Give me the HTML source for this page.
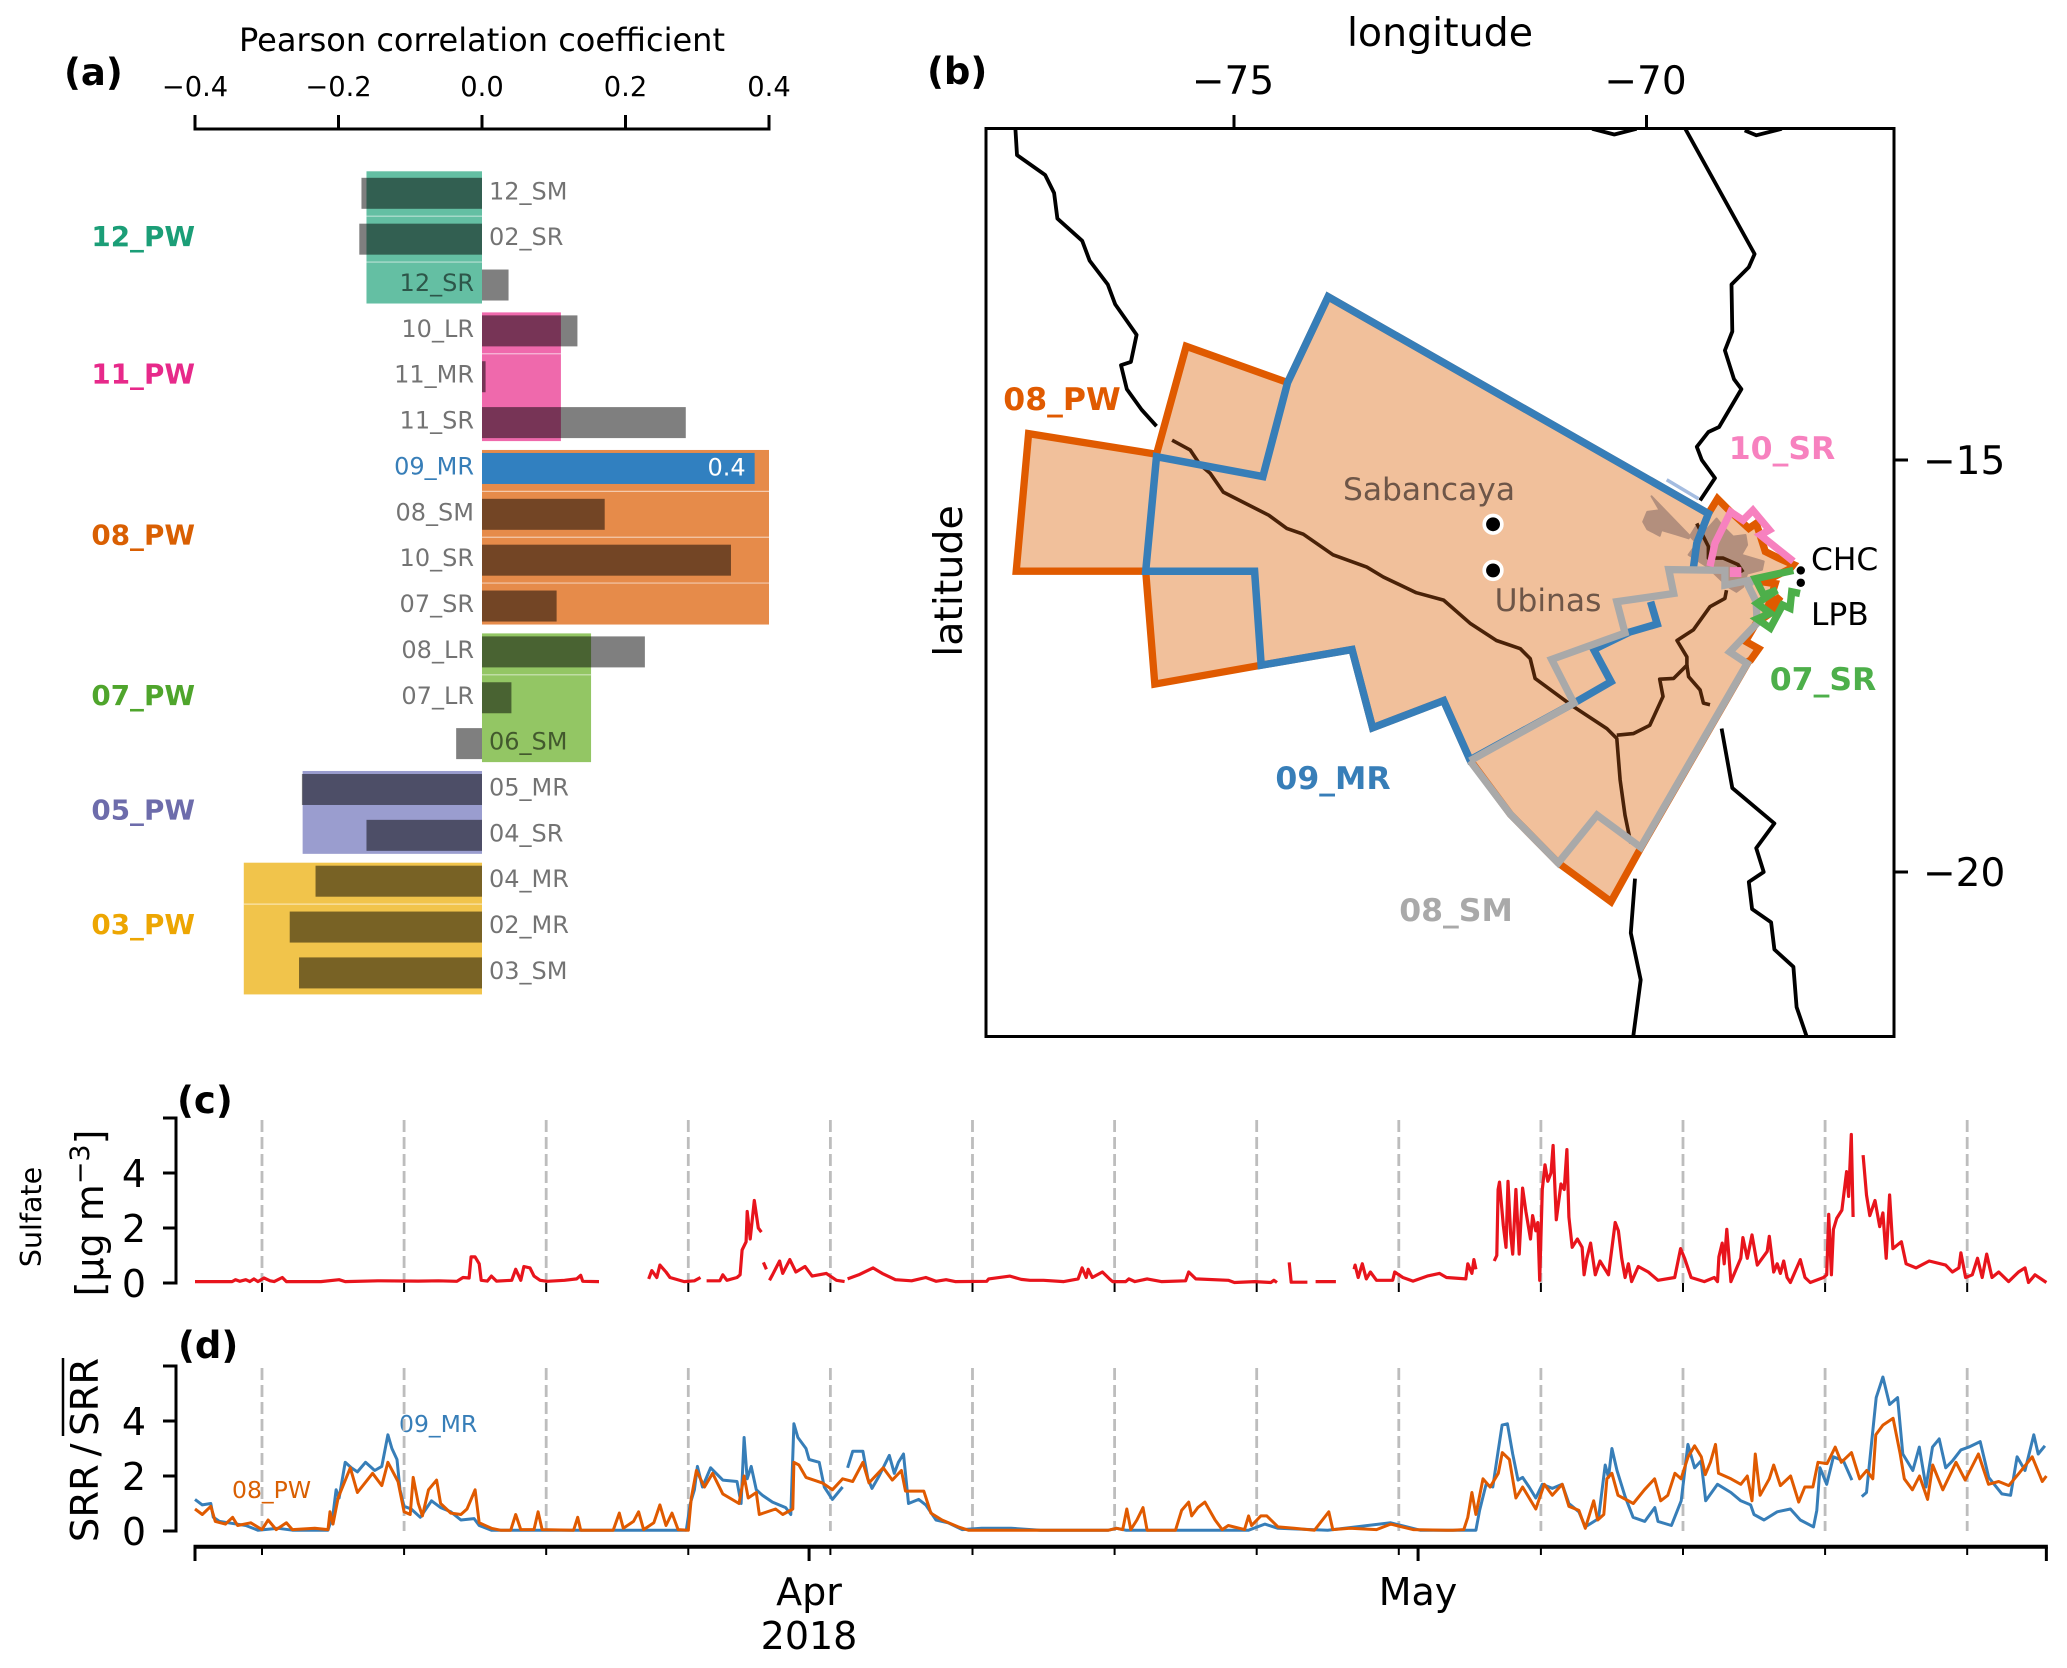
<!DOCTYPE html>
<html lang="en">
<head>
<meta charset="utf-8">
<title>Sulfate correlation, source regions and time series</title>
<style>
html,body{margin:0;padding:0;background:#fff;}
svg{display:block;font-family:"DejaVu Sans","Liberation Sans",sans-serif;}
</style>
</head>
<body>
<svg id="fig" xmlns="http://www.w3.org/2000/svg" width="2067" height="1668" viewBox="0 0 2067 1668">
  <rect width="2067" height="1668" fill="#fff"/>
  <defs><clipPath id="mapClip"><rect x="986" y="128.5" width="908" height="908"/></clipPath></defs>
  <text x="64" y="85" font-size="37" font-weight="bold">(a)</text>
  <text x="927" y="84" font-size="37" font-weight="bold">(b)</text>
  <text x="177" y="1113" font-size="37" font-weight="bold">(c)</text>
  <text x="178" y="1358" font-size="37" font-weight="bold">(d)</text>
  <text x="482" y="51" font-size="32" text-anchor="middle">Pearson correlation coefficient</text>
  <text x="1440" y="46" font-size="39.5" text-anchor="middle">longitude</text>
  <text transform="translate(962,581) rotate(-90)" font-size="39.5" text-anchor="middle">latitude</text>
  <text transform="translate(41,1217) rotate(-90)" font-size="28.5" text-anchor="middle">Sulfate</text>
  <text transform="translate(103,1213) rotate(-90)" font-size="38" text-anchor="middle">[µg m<tspan font-size="27" dy="-14">−3</tspan><tspan dy="14">]</tspan></text>
  <text transform="translate(98,1450) rotate(-90)" font-size="38.5" text-anchor="middle">SRR&#8201;/&#8201;SRR</text>
  <line x1="63" x2="63" y1="1436" y2="1358" stroke="#000" stroke-width="2.5"/>
  <text x="399" y="1432" font-size="23.5" fill="#377eb8">09_MR</text>
  <text x="232" y="1498" font-size="23.5" fill="#d95f02">08_PW</text>
  <text x="809" y="1605" font-size="38" text-anchor="middle">Apr</text>
  <text x="809" y="1649" font-size="38" text-anchor="middle">2018</text>
  <text x="1418" y="1605" font-size="38" text-anchor="middle">May</text>
</svg>
<script>
// ---------- panel (a) data ----------
const corrTicks = [-0.4, -0.2, 0, 0.2, 0.4];
const corrTickLabels = ['\u22120.4', '\u22120.2', '0.0', '0.2', '0.4'];
const rowNames = ['12_SM','02_SR','12_SR','10_LR','11_MR','11_SR','09_MR','08_SM','10_SR','07_SR','08_LR','07_LR','06_SM','05_MR','04_SR','04_MR','02_MR','03_SM'];
const rowValues = [-0.168,-0.171,0.037,0.133,0.005,0.284,0.38,0.171,0.347,0.104,0.227,0.041,-0.036,-0.251,-0.161,-0.232,-0.268,-0.255];
const groupNames = ['12_PW','11_PW','08_PW','07_PW','05_PW','03_PW'];
const groupValues = [-0.161,0.11,0.4,0.152,-0.25,-0.332];
const groupFirstRow = [0,3,6,10,13,15];
const groupLastRow = [2,5,9,12,14,17];
const separatorRows = [0,1,3,6,7,8,10,15];
const groupFills = ['#64bfa3','#ef69ac','#e68b4a','#93c664','#9a9dcf','#f1c44b'];
const groupTextColors = ['#1b9e77','#e7298a','#d95f02','#4fa52c','#6d6cab','#eda602'];

// ---------- panel (b) data (longitude / latitude) ----------
const lonTicks = [-75, -70];
const latTicks = [-15, -20];
const pwLon = [-77.49,-77.64,-76.07,-75.96,-74.67,-73.57,-73.32,-72.46,-72.14,-71.65,-71.07,-70.43,-70.07,-68.76,-68.74,-68.64,-68.8,-68.67,-68.5,-68.38,-68.52,-68.44,-68.58,-68.26,-68.22,-68.4,-68.56,-68.63,-68.67,-68.76,-69,-69.14,-69.25,-73.86,-74.35,-75.58,-75.94];
const pwLat = [-14.68,-16.35,-16.35,-17.72,-17.49,-17.3,-18.25,-17.92,-18.64,-19.3,-19.89,-20.36,-19.71,-17.44,-17.43,-17.29,-17.2,-16.98,-16.86,-16.66,-16.76,-16.5,-16.48,-16.32,-16.27,-16.19,-16.11,-15.89,-15.77,-15.83,-15.61,-15.47,-15.65,-13.02,-14.06,-13.62,-14.93];
const mrLon = [-69.43,-69.39,-69.25,-73.86,-74.35,-74.65,-75.94,-76.07,-74.75,-74.67,-73.57,-73.32,-72.46,-72.14,-70.88,-70.43,-70.64,-70.21,-69.87,-69.95];
const mrLat = [-16.3,-16.01,-15.65,-13.02,-14.06,-15.2,-14.96,-16.35,-16.35,-17.49,-17.3,-18.25,-17.92,-18.64,-17.95,-17.69,-17.3,-17.09,-16.99,-16.72];
const smLon = [-72.14,-71.65,-71.07,-70.6,-70.07,-68.78,-68.99,-68.66,-68.67,-68.77,-68.7,-69.05,-69.05,-69.73,-69.67,-70.36,-70.26,-71.15,-70.88,-72.14];
const smLat = [-18.65,-19.3,-19.89,-19.31,-19.7,-17.47,-17.33,-16.98,-16.72,-16.52,-16.45,-16.52,-16.34,-16.33,-16.62,-16.72,-17.1,-17.42,-17.95,-18.65];
const srPinkLon = [-69.23,-69.17,-68.98,-68.83,-68.71,-68.51,-68.62,-68.22];
const srPinkLat = [-16.29,-16.01,-15.63,-15.73,-15.61,-15.85,-15.91,-16.23];
const srPinkPatchLon = [-68.99,-68.85,-68.85,-68.99];
const srPinkPatchLat = [-16.3,-16.3,-16.42,-16.42];
const srGreenLon = [-68.22,-68.68,-68.58,-68.42,-68.66,-68.5,-68.66,-68.5,-68.35,-68.26,-68.24,-68.14];
const srGreenLat = [-16.34,-16.44,-16.64,-16.58,-16.74,-16.86,-16.93,-17.04,-16.76,-16.8,-16.6,-16.62];
const shadeLon = [-69.94,-69.84,-69.99,-70.04,-69.99,-69.84,-69.82,-69.65,-69.49,-69.39,-69.31,-69.15,-69.07,-68.95,-68.8,-68.78,-68.85,-68.58,-68.6,-68.78,-68.83,-68.91,-69.01,-69.27,-69.49,-69.39];
const shadeLat = [-15.44,-15.61,-15.63,-15.75,-15.84,-15.92,-15.85,-15.9,-15.95,-15.79,-15.89,-15.71,-15.81,-15.93,-15.91,-16.03,-16.15,-16.23,-16.33,-16.38,-16.54,-16.6,-16.54,-16.29,-16.15,-16.01];
const riverMainLon = [-75.75,-75.53,-75.41,-75.29,-75.13,-74.58,-74.36,-74.16,-73.8,-73.39,-73.19,-72.79,-72.46,-72.14,-71.82,-71.53,-71.41,-71.35,-70.89,-70.48,-70.36,-70.32,-70.26,-70.19];
const riverMainLat = [-14.76,-14.88,-15.06,-15.16,-15.39,-15.67,-15.83,-15.9,-16.15,-16.3,-16.42,-16.61,-16.7,-16.98,-17.19,-17.29,-17.41,-17.65,-17.99,-18.26,-18.38,-18.88,-19.31,-19.65];
const riverEastLon = [-70.36,-70.16,-69.96,-69.8,-69.84,-69.67,-69.51,-69.51,-69.63,-69.43,-69.23,-69.05,-69.03];
const riverEastLat = [-18.34,-18.32,-18.22,-17.87,-17.66,-17.65,-17.49,-17.39,-17.19,-17.06,-16.78,-16.68,-16.58];
const riverForkLon = [-69.51,-69.49,-69.35,-69.31,-69.23];
const riverForkLat = [-17.49,-17.63,-17.79,-17.95,-17.97];
const riverUpperLon = [-69.39,-69.25,-69.25,-69.07,-68.89,-68.83];
const riverUpperLat = [-15.77,-16.05,-16.19,-16.19,-16.27,-16.36];
const coastWestLon = [-77.65,-77.63,-77.29,-77.18,-77.14,-76.84,-76.75,-76.53,-76.44,-76.18,-76.25,-76.37,-76.3,-76.12,-75.94];
const coastWestLat = [-10.98,-11.3,-11.54,-11.76,-12.07,-12.34,-12.58,-12.87,-13.11,-13.48,-13.81,-13.85,-14.14,-14.39,-14.59];
const coastNorthLon = [-70.66,-70.39,-70.12];
const coastNorthLat = [-10.98,-11.05,-10.98];
const borderMidLon = [-69.53,-68.69,-68.76,-68.97,-68.96,-69.05,-68.94,-68.85,-69.12,-69.25,-69.39,-69.33,-69.17,-69.35];
const borderMidLat = [-10.98,-12.5,-12.66,-12.87,-13.44,-13.67,-14.02,-14.14,-14.6,-14.66,-14.84,-15,-15.22,-15.49];
const borderTopLon = [-68.81,-68.67,-68.36];
const borderTopLat = [-11.0,-11.06,-10.98];
const borderSouthLon = [-69.09,-68.96,-68.45,-68.67,-68.58,-68.76,-68.72,-68.49,-68.45,-68.22,-68.18,-68.06];
const borderSouthLat = [-18.26,-18.98,-19.41,-19.71,-20,-20.12,-20.45,-20.61,-20.94,-21.15,-21.64,-21.99];
const coastSouthLon = [-70.14,-70.19,-70.07,-70.16];
const coastSouthLat = [-20.08,-20.74,-21.31,-21.99];
const lakeLon = [-69.755,-69.37];
const lakeLat = [-15.24,-15.47];
const volcanoNames = ['Sabancaya','Ubinas'];
const volcanoLon = [-71.86,-71.86];
const volcanoLat = [-15.78,-16.34];
const stationNames = ['CHC','LPB'];
const stationLon = [-68.13,-68.13];
const stationLat = [-16.34,-16.49];

// ---------- panels (c) and (d) data (days since start of axis) ----------
const weekGridDays = [3.3,10.3,17.3,24.3,31.3,38.3,45.3,52.3,59.3,66.3,73.3,80.3,87.3];
const monthTickDays = [0,30.25,60.25,91.2];
const concTicks = [0,2,4];
const sulfateDays = [
0,1.83,2,2.2,2.5,2.7,2.9,3.1,3.4,3.7,3.9,4.3,4.5,6.2,7.1,7.4,9,11,12,12.9,13.2,13.5,13.6,13.8,14,14.1,14.4,14.6,14.85,15.6,15.8,16.05,16.2,16.5,16.7,17,17.35,18.2,18.8,19,19.1,19.9,
20,22.35,22.5,22.75,22.9,23.2,23.4,24.1,24.6,24.9,
25,25.2,25.85,26,26.2,26.7,26.85,26.95,27.15,27.2,27.35,27.55,27.75,27.9,
27.95,28,28.15,
28.2,28.3,28.45,28.8,28.95,29.3,29.6,30.05,30.4,31.1,31.6,32,
32.1,32.15,32.7,33.4,33.85,34.5,35.3,36,36.5,37,37.45,39,39.1,40.15,40.7,41.13,41.8,42.8,43.5,43.7,43.9,44,44.2,44.7,45.05,45.2,45.85,46,46.3,46.9,47.6,48.8,48.95,49.3,50.9,51.2,52.2,53,53.15,53.3,
53.5,53.9,54,54.8,
55,55.2,56.2,
57,57.1,57.15,57.3,57.5,57.7,57.9,58.2,59,59.1,59.5,60,60.7,61.3,61.65,62.6,62.7,62.9,63,63.1,
63.5,64,64.13,64.19,64.26,64.45,64.58,64.68,64.81,64.91,65.07,65.23,65.4,65.56,65.79,65.89,66.05,66.15,66.24,66.37,66.5,66.64,66.8,66.9,67.06,67.29,67.45,67.58,67.68,67.84,68.1,68.33,68.43,68.56,68.75,68.98,69.21,69.63,69.96,70.12,70.28,70.45,70.61,70.77,71.1,71.59,72.07,72.89,73.18,73.38,73.7,74.35,74.84,75,75.07,75.23,75.33,75.46,75.66,76.15,76.25,76.47,76.7,76.96,77.45,77.55,77.77,77.94,78.1,78.26,78.43,78.59,79.08,79.31,79.57,80.22,80.38,80.48,80.61,80.71,80.87,81.13,81.36,81.46,81.59,81.68,
82,82.17,82.34,82.5,82.76,82.99,83.15,83.31,83.48,83.64,84.06,84.29,84.78,85.43,86.24,86.57,86.89,86.99,87.22,87.55,87.81,88.04,88.26,88.52,88.85,89.34,89.83,90.15,90.32,90.64,91.2];
const sulfateValues = [
.05,.05,.12,.06,.12,.05,.15,.05,.18,.08,.05,.2,.05,.05,.12,.05,.08,.07,.08,.06,.2,.18,.95,.95,.7,.1,.07,.25,.07,.1,.5,.1,.6,.55,.25,.1,.06,.1,.15,.28,.06,.05,
null,.15,.45,.2,.65,.4,.2,.05,.08,.2,
null,.08,.08,.3,.1,.2,.3,1.2,1.5,2.6,1.6,3,2,1.85,
null,.75,.5,
null,.1,.3,.8,.35,.85,.4,.6,.25,.35,.1,.05,
null,.15,.3,.55,.35,.12,.08,.2,.06,.12,.05,.06,.15,.25,.13,.1,.1,.05,.15,.55,.2,.5,.2,.4,.15,.05,.05,.15,.05,.15,.05,.08,.4,.15,.1,.02,.05,.02,.1,.02,
null,.75,.03,.03,
null,.05,.05,
null,.5,.65,.2,.7,.15,.4,.1,.1,.4,.2,.07,.25,.35,.2,.15,.7,.35,.85,.5,
null,.8,1,3.4,3.67,2.1,1.3,3.7,1.8,1.05,3.4,1.05,3.45,2.6,1.6,2.45,1.9,2.2,.1,3.4,4.3,3.7,4,5,2.3,3.6,3.4,4.85,2.4,1.3,1.6,1.3,.3,.9,1.45,.3,.8,.3,2.2,1.9,.9,.2,.7,.05,.6,.4,.1,.2,1.25,.9,.2,.05,.2,.05,.95,1.45,.7,1.95,.05,.9,1.65,.9,1.75,.65,1.15,1.7,.4,.7,.35,.8,.2,.02,.85,.2,.02,.2,.3,2.5,.3,1.95,2.35,2.65,4.05,3.15,5.4,2.4,
null,4.65,3.2,2.45,3,2.05,2.55,.9,3.2,1.25,1.5,.7,.55,.8,.65,.4,.55,1.1,.2,.3,.9,.2,1.05,.2,.4,.05,.4,.55,.02,.3,.02];
const srrMrDays = [
0,.36,.78,.9,1.2,1.65,2.5,3.1,4.1,4.8,6.55,6.8,6.95,7.1,7.4,7.7,8,8.4,8.85,9.2,9.5,9.7,9.95,10.1,10.3,10.65,11.1,11.65,12.1,12.6,13.1,13.75,14,14.6,16.5,24.2,24.4,24.6,24.75,25,25.4,26,26.7,26.9,27.05,27.2,27.4,27.65,27.95,28.45,29.1,29.35,29.5,29.7,30.1,30.25,30.75,31,31.4,31.9,
32,32.15,32.4,32.9,33.15,33.35,33.7,34.2,34.45,34.65,34.9,35.15,35.65,36,36.5,37.1,37.8,38.75,40.2,41.65,45,45.4,45.85,51.9,52.7,53.35,55.8,58.9,60.35,63.1,
63.28,63.6,63.93,64.19,64.39,64.65,64.91,65.17,65.4,65.72,66.05,66.37,66.86,67.35,67.68,68.17,68.49,69.14,69.47,69.63,69.8,70.05,70.45,70.84,71.42,71.91,72.07,72.73,73.21,73.54,73.87,74.19,74.42,75,75.66,76.15,76.63,76.8,77.29,77.94,78.59,79.08,79.73,79.89,80.05,80.38,80.71,81.2,81.62,
81.9,82.11,82.34,82.56,82.82,83.15,83.48,83.87,84.13,84.62,84.94,85.27,85.59,85.92,86.24,86.57,86.99,87.38,87.94,88.36,89.01,89.44,89.76,90.15,90.58,90.8,91.13];
const srrMrValues = [
1.15,.95,1,.5,.35,.3,.2,.03,.1,.03,.03,.6,1.5,1.2,2.5,2.3,2.15,2.5,2.2,2.35,3.5,3,2.6,1.5,.9,.8,.5,1.1,.85,.7,.4,.45,.2,.03,.03,.03,1,1.5,2.35,1.6,2.3,1.85,1.8,1,3.4,1.9,2.35,1.5,1.3,1.05,.85,.6,3.9,3.4,3,2.6,2.5,1.6,1.15,1.6,
null,2.3,2.9,2.9,1.9,1.55,2,2.75,2.1,2.5,2.8,1,1.15,.95,.4,.3,.05,.1,.1,.03,.03,.1,.03,.03,.25,.1,.03,.3,.03,.03,
.75,1.7,1.6,2.9,3.85,3.9,2.8,1.85,1.95,1.6,1.2,1.7,1.55,1.7,1,.7,.15,.45,2.4,1.95,3,2.2,1.25,.5,.35,.85,.35,.2,1.1,3.15,2.3,2.55,1.1,1.7,1.4,1.1,.95,.6,.4,.7,.8,.4,.15,.75,2.3,1.7,2.7,2.55,1.85,
null,1.25,1.4,3,4.85,5.6,4.6,4.85,2.8,2.2,3.05,1.6,3.05,3.35,2.3,2.55,2.95,3.05,3.25,1.95,1.35,1.3,2.7,2.2,3.5,2.8,3.1];
const srrPwDays = [
0,.36,.78,1,1.5,1.85,2.1,2.75,3.3,3.6,4,4.5,4.8,5.9,6.55,6.65,6.8,7.05,7.65,8,8.75,9.2,9.5,10,10.3,10.6,10.75,11,11.2,11.5,11.9,12.1,12.6,13.1,13.4,13.8,14,14.6,15.05,15.55,15.8,16.05,16.7,16.9,17.1,18.65,18.85,19,20.6,20.9,21.1,21.6,21.85,22.1,22.6,22.9,23.2,23.5,23.8,24.3,24.45,24.7,25.1,25.5,26,26.8,27.05,27.25,27.65,27.8,28.6,28.95,29.45,29.5,29.75,30.1,30.9,31.4,31.9,32.4,32.9,33.2,33.9,34.35,34.8,35,35.9,36.25,36.8,37.6,38.1,41.65,45,45.4,45.7,45.9,46.1,46.4,46.7,46.9,48.3,48.6,48.95,49.1,49.4,49.75,50.25,50.6,50.9,51.7,51.9,52.05,52.5,52.8,53.35,54.15,55.15,55.85,56.05,56.9,58.2,58.9,60,61.65,61.97,62.5,62.7,62.9,63.1,63.45,63.8,64.2,64.4,64.75,65.07,65.4,66.05,66.47,66.86,67.35,67.68,68.17,68.49,68.9,69.1,69.4,69.55,69.8,70.1,70.85,71.4,71.9,72.2,72.55,72.9,73.2,73.55,73.87,74.2,74.4,74.65,74.9,75.05,75.66,76.15,76.47,76.7,76.86,77.1,77.55,77.77,78.1,78.6,79,79.3,79.7,79.95,80.4,80.8,81.1,81.6,82,82.35,82.65,82.8,83.15,83.65,84,84.2,84.6,84.95,85.35,85.6,86.1,86.75,87.2,87.85,88.35,88.85,89.35,89.85,90.5,91,91.2];
const srrPwValues = [
.8,.6,.9,.35,.25,.5,.2,.3,.05,.4,.05,.3,.05,.1,.05,.7,.25,1.2,2.3,1.4,2.1,1.65,2.5,1.8,.7,.6,1.95,1,.55,1.5,1.85,1,.65,.6,.8,1.5,.3,.1,.03,.03,.6,.05,.05,.7,.05,.03,.5,.03,.03,.65,.1,.35,.7,.05,.3,.95,.2,.65,.05,.03,1.2,2.2,1.6,2.1,1.35,1,2,1.2,1.4,.6,.8,.6,.8,2.5,2.4,1.95,1.75,1.5,1.9,1.8,2.5,1.75,2.3,1.85,2.2,1.45,1.45,.65,.4,.15,.03,.03,.03,.1,.05,.8,.05,.4,.85,.03,.03,.75,1.05,.55,.85,1.05,.4,.05,.2,.05,.55,.2,.55,.55,.15,.1,.03,.7,.05,.1,.05,.25,.05,.03,.03,.05,.5,1.4,.6,1.9,1.6,2.1,2.85,2.6,1.2,1.6,.8,1.7,1.3,1.7,.9,.75,.1,1.1,.4,.6,1.9,2.1,1.3,1,1.5,1.9,1.1,1.3,2.1,1.9,2.7,3.1,2.7,2.05,2.5,3.15,2.1,1.9,1.7,2,1.1,2.8,1.3,1.9,2.4,1.65,2,1.05,1.6,1.6,2.5,2.45,3.05,2.5,2.85,1.9,2.2,1.9,3.5,3.85,4.1,2.8,1.9,1.5,2,1.15,2.4,1.5,2.5,1.85,2.8,1.7,1.8,1.65,2.1,2.7,1.8,2];

// ---------- axis functions ----------
const corrX = v => 482 + v * 717.5;
const rowY = i => 193.3 + i * 45.86;
const lonX = lon => 1646.5 + (lon + 70) * 82.5;
const latY = lat => 460 + (-15 - lat) * 82.4;
const dayX = d => 195 + d * 20.3;
const sulfateY = v => 1283 - v * 27.5;
const srrY = v => 1531 - v * 27.5;

// ---------- helpers ----------
const svg = document.getElementById('fig');
const NS = 'http://www.w3.org/2000/svg';
function mk(tag, attrs, parent) {
  const n = document.createElementNS(NS, tag);
  for (const k in attrs) n.setAttribute(k, attrs[k]);
  (parent || svg).appendChild(n);
  return n;
}
function geoPoints(lons, lats) {
  return lons.map((lon, i) => lonX(lon).toFixed(1) + ',' + latY(lats[i]).toFixed(1)).join(' ');
}
function seriesPath(days, values, yFn) {
  let d = '', pen = false;
  days.forEach((day, i) => {
    const v = values[i];
    if (v === null || v === undefined) { pen = false; return; }
    d += (pen ? 'L' : 'M') + dayX(day).toFixed(1) + ' ' + yFn(v).toFixed(1);
    pen = true;
  });
  return d;
}
let el;

// ---------- panel (a) ----------
groupNames.forEach((name, g) => {
  const first = groupFirstRow[g], last = groupLastRow[g];
  const left = corrX(Math.min(0, groupValues[g])), right = corrX(Math.max(0, groupValues[g]));
  const top = rowY(first) - (first === 0 ? 22 : 18.5), bottom = rowY(last) + (last === 17 ? 21.5 : 18.5);
  el = mk('rect', {x: left, y: top, width: right - left, height: bottom - top, fill: groupFills[g]});
  
  
  for (let r = first; r < last; r++) {
    if (!separatorRows.includes(r)) continue;
    el = mk('line', {x1: left, x2: right, y1: rowY(r) + 22.9, y2: rowY(r) + 22.9, stroke: '#fff', 'stroke-opacity': .55, 'stroke-width': 1.2});
    
    
  }
  el = mk('text', {x: 195, y: (rowY(first) + rowY(last)) / 2 + 7, 'font-size': 27.8, 'font-weight': 'bold', 'text-anchor': 'end', fill: groupTextColors[g]});
  el.textContent = name;
  
  
});
rowNames.forEach((name, i) => {
  const v = rowValues[i], blue = name === '09_MR';
  const left = corrX(Math.min(0, v)), right = corrX(Math.max(0, v));
  el = mk('rect', {x: left, y: rowY(i) - 15.5, width: right - left, height: 31, fill: blue ? '#3180c0' : '#000', 'fill-opacity': blue ? 1 : .5});
  
  
  el = mk('text', {x: v >= 0 ? 474 : 489, y: rowY(i) + 6, 'font-size': 24, 'text-anchor': v >= 0 ? 'end' : 'start', fill: blue ? '#377eb8' : '#000', 'fill-opacity': blue ? 1 : .55});
  el.textContent = name;
  
  
  if (blue) {
    el = mk('text', {x: right - 9, y: rowY(i) + 7, 'font-size': 24, 'text-anchor': 'end', fill: '#fff'});
    el.textContent = v.toFixed(1);
    
    
  }
});
el = mk('line', {x1: corrX(-0.4) - 1.5, x2: corrX(0.4) + 1.5, y1: 129, y2: 129, stroke: '#000', 'stroke-width': 3});


corrTicks.forEach((t, i) => {
  el = mk('line', {x1: corrX(t), x2: corrX(t), y1: 115, y2: 129, stroke: '#000', 'stroke-width': 3});
  
  
  el = mk('text', {x: corrX(t), y: 96, 'font-size': 27.3, 'text-anchor': 'middle'});
  el.textContent = corrTickLabels[i];
  
  
});

// ---------- panel (b) ----------
const map = mk('g', {'clip-path': 'url(#mapClip)'});


[[coastWestLon, coastWestLat], [coastNorthLon, coastNorthLat], [borderMidLon, borderMidLat], [borderTopLon, borderTopLat], [borderSouthLon, borderSouthLat], [coastSouthLon, coastSouthLat]].forEach(pair => {
  el = mk('polyline', {points: geoPoints(pair[0], pair[1]), fill: 'none', stroke: '#000', 'stroke-width': 3.8, 'stroke-linejoin': 'round'}, map);
  
  
});
el = mk('polyline', {points: geoPoints(lakeLon, lakeLat), fill: 'none', stroke: '#a4bce0', 'stroke-width': 3.5}, map);


el = mk('polygon', {points: geoPoints(pwLon, pwLat), fill: '#f1c09b', stroke: '#e05a00', 'stroke-width': 7.3, 'stroke-linejoin': 'miter'}, map);


el = mk('polygon', {points: geoPoints(shadeLon, shadeLat), fill: '#b38f7d', stroke: '#b38f7d', 'stroke-width': 2, 'stroke-linejoin': 'round'}, map);


[[riverMainLon, riverMainLat], [riverEastLon, riverEastLat], [riverForkLon, riverForkLat], [riverUpperLon, riverUpperLat]].forEach(pair => {
  el = mk('polyline', {points: geoPoints(pair[0], pair[1]), fill: 'none', stroke: '#4a2208', 'stroke-width': 3.6, 'stroke-linejoin': 'round'}, map);
  
  
});
el = mk('polyline', {points: geoPoints(mrLon, mrLat), fill: 'none', stroke: '#377eb8', 'stroke-width': 7.5}, map);


el = mk('polyline', {points: geoPoints(smLon, smLat), fill: 'none', stroke: '#a9a9a9', 'stroke-width': 7.3}, map);


el = mk('polyline', {points: geoPoints(srPinkLon, srPinkLat), fill: 'none', stroke: '#f781bf', 'stroke-width': 7.3}, map);


el = mk('polygon', {points: geoPoints(srPinkPatchLon, srPinkPatchLat), fill: '#f781bf'}, map);


el = mk('polyline', {points: geoPoints(srGreenLon, srGreenLat), fill: 'none', stroke: '#4daf4a', 'stroke-width': 7.3}, map);


volcanoNames.forEach((name, i) => {
  el = mk('circle', {cx: lonX(volcanoLon[i]), cy: latY(volcanoLat[i]), r: 8.8, fill: '#000', stroke: '#fff', 'stroke-width': 3.7}, map);
  
  
});
stationNames.forEach((name, i) => {
  el = mk('circle', {cx: lonX(stationLon[i]), cy: latY(stationLat[i]), r: 4.2, fill: '#000'}, map);
  
  
});
el = mk('rect', {x: 986, y: 128.5, width: 908, height: 908, fill: 'none', stroke: '#000', 'stroke-width': 3});


lonTicks.forEach(t => {
  el = mk('line', {x1: lonX(t), x2: lonX(t), y1: 115, y2: 128, stroke: '#000', 'stroke-width': 3});
  
  
  el = mk('text', {x: lonX(t) - 1, y: 94, 'font-size': 39, 'text-anchor': 'middle'});
  el.textContent = '\u2212' + Math.abs(t);
  
  
});
latTicks.forEach(t => {
  el = mk('line', {x1: 1894, x2: 1908, y1: latY(t), y2: latY(t), stroke: '#000', 'stroke-width': 3});
  
  
  el = mk('text', {x: 1923, y: latY(t) + 14, 'font-size': 39});
  el.textContent = '\u2212' + Math.abs(t);
  
  
});
const sabancaya = mk('text', {x: 1429, y: 500, 'font-size': 31.3, 'text-anchor': 'middle', fill: '#6e5648'});
sabancaya.textContent = 'Sabancaya';


const ubinas = mk('text', {x: 1548, y: 611, 'font-size': 31.3, 'text-anchor': 'middle', fill: '#6e5648'});
ubinas.textContent = 'Ubinas';


const chc = mk('text', {x: 1811, y: 570, 'font-size': 31.3});
chc.textContent = 'CHC';


const lpb = mk('text', {x: 1811, y: 625, 'font-size': 31.3});
lpb.textContent = 'LPB';


const lblPw = mk('text', {x: 1062, y: 410, 'font-size': 31.5, 'font-weight': 'bold', 'text-anchor': 'middle', fill: '#e05a00'});
lblPw.textContent = '08_PW';


const lblSr = mk('text', {x: 1782, y: 459, 'font-size': 31.5, 'font-weight': 'bold', 'text-anchor': 'middle', fill: '#f781bf'});
lblSr.textContent = '10_SR';


const lblMr = mk('text', {x: 1333, y: 789, 'font-size': 31.5, 'font-weight': 'bold', 'text-anchor': 'middle', fill: '#377eb8'});
lblMr.textContent = '09_MR';


const lblGr = mk('text', {x: 1823, y: 690, 'font-size': 31.5, 'font-weight': 'bold', 'text-anchor': 'middle', fill: '#4daf4a'});
lblGr.textContent = '07_SR';


const lblSm = mk('text', {x: 1456, y: 921, 'font-size': 31.5, 'font-weight': 'bold', 'text-anchor': 'middle', fill: '#a9a9a9'});
lblSm.textContent = '08_SM';



// ---------- panels (c) and (d) ----------
weekGridDays.forEach(d => {
  el = mk('line', {x1: dayX(d), x2: dayX(d), y1: 1120, y2: 1283, stroke: '#bdbdbd', 'stroke-width': 2.8, 'stroke-dasharray': '12 5'});
  
  
  el = mk('line', {x1: dayX(d), x2: dayX(d), y1: 1283, y2: 1292, stroke: '#000', 'stroke-width': 2});
  
  
  el = mk('line', {x1: dayX(d), x2: dayX(d), y1: 1368, y2: 1531, stroke: '#bdbdbd', 'stroke-width': 2.8, 'stroke-dasharray': '12 5'});
  
  
  el = mk('line', {x1: dayX(d), x2: dayX(d), y1: 1546.7, y2: 1555, stroke: '#000', 'stroke-width': 2});
  
  
});
el = mk('path', {d: seriesPath(sulfateDays, sulfateValues, sulfateY), fill: 'none', stroke: '#e8141c', 'stroke-width': 3.2, 'stroke-linejoin': 'round'});


el = mk('path', {d: seriesPath(srrMrDays, srrMrValues, srrY), fill: 'none', stroke: '#377eb8', 'stroke-width': 3, 'stroke-linejoin': 'round'});


el = mk('path', {d: seriesPath(srrPwDays, srrPwValues, srrY), fill: 'none', stroke: '#e05a00', 'stroke-width': 3, 'stroke-linejoin': 'round'});


el = mk('line', {x1: 176, x2: 176, y1: 1116.5, y2: 1284.5, stroke: '#000', 'stroke-width': 3});


el = mk('line', {x1: 176, x2: 176, y1: 1364.5, y2: 1532.5, stroke: '#000', 'stroke-width': 3});


el = mk('line', {x1: 163, x2: 176, y1: 1118, y2: 1118, stroke: '#000', 'stroke-width': 3});


el = mk('line', {x1: 163, x2: 176, y1: 1366, y2: 1366, stroke: '#000', 'stroke-width': 3});


concTicks.forEach(t => {
  el = mk('line', {x1: 163, x2: 176, y1: sulfateY(t), y2: sulfateY(t), stroke: '#000', 'stroke-width': 3});
  
  
  el = mk('text', {x: 146, y: sulfateY(t) + 14, 'font-size': 38, 'text-anchor': 'end'});
  el.textContent = t;
  
  
  el = mk('line', {x1: 163, x2: 176, y1: srrY(t), y2: srrY(t), stroke: '#000', 'stroke-width': 3});
  
  
  el = mk('text', {x: 146, y: srrY(t) + 14, 'font-size': 38, 'text-anchor': 'end'});
  el.textContent = t;
  
  
});
el = mk('line', {x1: dayX(0) - 1.5, x2: dayX(91.2) + 1.5, y1: 1546.7, y2: 1546.7, stroke: '#000', 'stroke-width': 4});


monthTickDays.forEach(d => {
  el = mk('line', {x1: dayX(d), x2: dayX(d), y1: 1546.7, y2: 1561, stroke: '#000', 'stroke-width': 3});
  
  
});
</script>
</body>
</html>
